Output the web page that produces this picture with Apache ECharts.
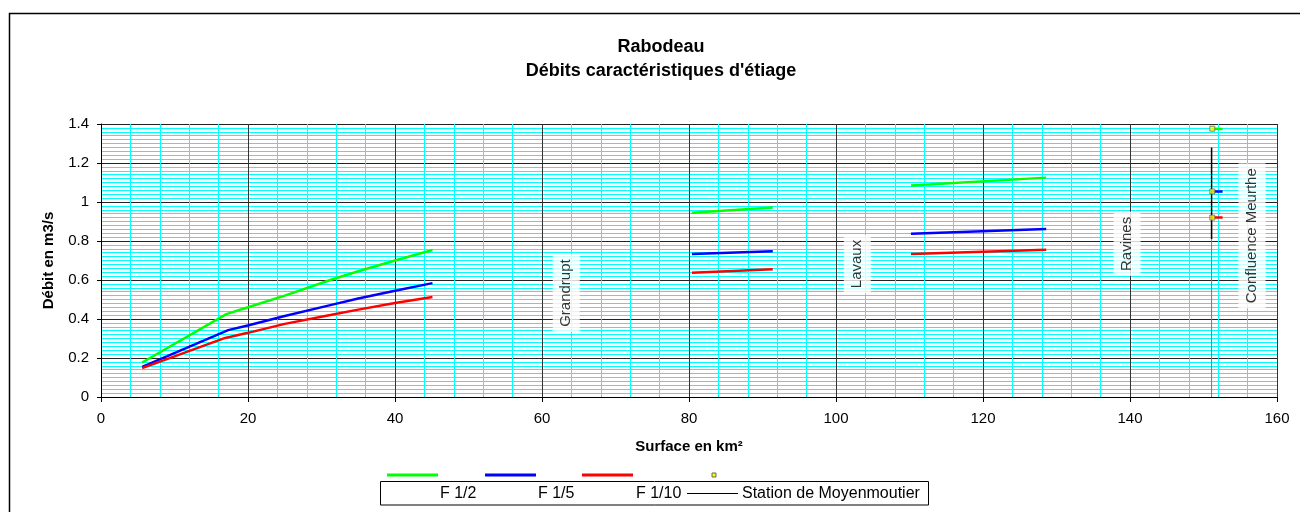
<!DOCTYPE html>
<html><head><meta charset="utf-8">
<script src="https://cdn.jsdelivr.net/npm/echarts@6/dist/echarts.min.js"></script>
<style>html,body{margin:0;padding:0;background:#fff}#c{width:1300px;height:512px}</style>
</head><body><div id="c"></div>
<script>
const FONT = "'Liberation Sans', Arial, sans-serif";

const titleLines = ['Rabodeau', "Débits caractéristiques d'étiage"];
const xAxisName = 'Surface en km²';
const yAxisName = 'Débit en m3/s';
const seriesNames = ['F 1/2', 'F 1/5', 'F 1/10', 'Station de Moyenmoutier'];
const seriesColors = ['#00ff00', '#0000ff', '#ff0000'];

const xTickLabels = ['0', '20', '40', '60', '80', '100', '120', '140', '160'];
const yTickLabels = ['0', '0.2', '0.4', '0.6', '0.8', '1', '1.2', '1.4'];

// Reach 1 (upstream)
const f12_x1 = [5.6, 17.05, 20, 25, 31.2, 35, 40, 45.1];
const f12_y1 = [0.177, 0.425, 0.46, 0.52, 0.60, 0.645, 0.70, 0.754];
const f15_x1 = [5.6, 17.3, 20.1, 25, 31.2, 35, 40, 45.1];
const f15_y1 = [0.155, 0.343, 0.368, 0.415, 0.471, 0.505, 0.545, 0.584];
const f110_x1 = [5.6, 16.9, 20, 25, 31.2, 35, 40, 45.1];
const f110_y1 = [0.148, 0.303, 0.329, 0.375, 0.42, 0.448, 0.482, 0.513];

// Reach 2
const reach2X = [80.4, 91.4];
const f12_y2 = [0.945, 0.972];
const f15_y2 = [0.733, 0.748];
const f110_y2 = [0.637, 0.655];

// Reach 3
const reach3X = [110.2, 128.6];
const f12_y3 = [1.085, 1.125];
const f15_y3 = [0.837, 0.862];
const f110_y3 = [0.733, 0.755];

// Station de Moyenmoutier (point + short tail)
const stationX = [151.2, 152.6];
const f12_st = [1.376, 1.374];
const f15_st = [1.054, 1.054];
const f110_st = [0.92, 0.92];
const stationBarX = 151.1;
const stationBarY = [0, 0.81, 1.28];

// Place labels
const placeNames = ['Grandrupt', 'Lavaux', 'Ravines', 'Confluence Meurthe'];
const placeX = [63.3, 102.9, 139.6, 156.6];
const placeY = [0.533, 0.682, 0.785, 0.827];

const zip = (xs, ys) => xs.map((x, i) => [x, ys[i]]);

function lineSeries(name, color, data, width) {
  return {
    name, type: 'line', data, showSymbol: false, symbol: 'none', silent: true,
    lineStyle: { color, width: width || 2.5 }, itemStyle: { color }, z: 3, animation: false
  };
}

const series = [];
const segs = [
  [zip(f12_x1, f12_y1), zip(reach2X, f12_y2), zip(reach3X, f12_y3), zip(stationX, f12_st)],
  [zip(f15_x1, f15_y1), zip(reach2X, f15_y2), zip(reach3X, f15_y3), zip(stationX, f15_st)],
  [zip(f110_x1, f110_y1), zip(reach2X, f110_y2), zip(reach3X, f110_y3), zip(stationX, f110_st)]
];
segs.forEach((list, k) => list.forEach(d => series.push(lineSeries(seriesNames[k], seriesColors[k], d))));

series.push(lineSeries(seriesNames[3], '#777777', [[stationBarX, stationBarY[0]], [stationBarX, stationBarY[1]]], 1));
series.push(lineSeries(seriesNames[3], '#000000', [[stationBarX, stationBarY[1]], [stationBarX, stationBarY[2]]], 1.5));
series.push({
  name: seriesNames[3], type: 'scatter', symbol: 'rect', symbolSize: 5, silent: true, animation: false, z: 6,
  itemStyle: { color: '#ffff00', borderColor: '#666', borderWidth: 1 },
  data: [[stationX[0], f12_st[0]], [stationX[0], f15_st[0]], [stationX[0], f110_st[0]]]
});
series.push({
  type: 'scatter', symbolSize: 0, silent: true, animation: false, z: 5,
  data: placeNames.map((n, i) => ({ name: n, value: [placeX[i], placeY[i]] })),
  label: {
    show: true, position: 'inside', rotate: 90, formatter: p => p.name,
    fontFamily: FONT, fontSize: 15, color: '#000', backgroundColor: '#fff', padding: [6, 5]
  }
});

const legendY = 475;
const option = {
  animation: false,
  backgroundColor: '#fff',
  textStyle: { fontFamily: FONT },
  grid: { left: 101, right: 23, top: 124, bottom: 115, show: false },
  xAxis: {
    type: 'value', min: 0, max: 160, interval: 20,
    name: xAxisName, nameLocation: 'middle', nameGap: 42,
    nameTextStyle: { fontFamily: FONT, fontSize: 15, fontWeight: 'bold', color: '#000' },
    axisLine: { show: true, lineStyle: { color: '#000', width: 1 } },
    axisTick: { show: true, length: 5, lineStyle: { color: '#000' } },
    axisLabel: { fontFamily: FONT, fontSize: 15, color: '#000', margin: 14,
      formatter: v => xTickLabels[Math.round(v / 20)] },
    splitLine: { show: true, lineStyle: { color: '#333', width: 1 } },
    minorTick: { show: false, splitNumber: 5 },
    minorSplitLine: { show: true, lineStyle: { color: '#00ffff', width: 1 } }
  },
  yAxis: {
    type: 'value', min: 0, max: 1.4, interval: 0.2,
    name: yAxisName, nameLocation: 'middle', nameGap: 45, nameRotate: 90,
    nameTextStyle: { fontFamily: FONT, fontSize: 15, fontWeight: 'bold', color: '#000' },
    axisLine: { show: true, lineStyle: { color: '#000', width: 1 } },
    axisTick: { show: true, length: 4, lineStyle: { color: '#000' } },
    axisLabel: { fontFamily: FONT, fontSize: 15, color: '#000', margin: 12,
      formatter: v => yTickLabels[Math.round(v / 0.2)] },
    splitLine: { show: true, lineStyle: { color: '#222', width: 1 } },
    minorTick: { show: false, splitNumber: 10 },
    minorSplitLine: { show: true, lineStyle: { color: '#00ffff', width: 1 } }
  },
  legend: { show: false },
  series,
  graphic: [
    { type: 'rect', shape: { x: 9.5, y: 13.5, width: 1400, height: 600 },
      style: { fill: 'none', stroke: '#000', lineWidth: 1.5 }, silent: true, z: 0 },
    { type: 'text', x: 661, y: 35, silent: true,
      style: { text: titleLines.join('\n'), align: 'center', verticalAlign: 'top',
        fontFamily: FONT, fontSize: 18, fontWeight: 'bold', lineHeight: 24, fill: '#000' } },
    { type: 'line', shape: { x1: 387, y1: legendY, x2: 438, y2: legendY }, style: { stroke: seriesColors[0], lineWidth: 3 }, silent: true },
    { type: 'line', shape: { x1: 485, y1: legendY, x2: 536, y2: legendY }, style: { stroke: seriesColors[1], lineWidth: 3 }, silent: true },
    { type: 'line', shape: { x1: 582, y1: legendY, x2: 633, y2: legendY }, style: { stroke: seriesColors[2], lineWidth: 3 }, silent: true },
    { type: 'rect', shape: { x: 712, y: 473, width: 4, height: 4 }, style: { fill: '#ffff00', stroke: '#666', lineWidth: 1 }, silent: true },
    { type: 'rect', shape: { x: 380.5, y: 481.5, width: 548, height: 23.5 }, style: { fill: 'none', stroke: '#000', lineWidth: 1 }, silent: true },
    { type: 'text', x: 440, y: 494, silent: true, style: { text: seriesNames[0], verticalAlign: 'middle', fontFamily: FONT, fontSize: 16, fill: '#000' } },
    { type: 'text', x: 538, y: 494, silent: true, style: { text: seriesNames[1], verticalAlign: 'middle', fontFamily: FONT, fontSize: 16, fill: '#000' } },
    { type: 'text', x: 636, y: 494, silent: true, style: { text: seriesNames[2], verticalAlign: 'middle', fontFamily: FONT, fontSize: 16, fill: '#000' } },
    { type: 'line', shape: { x1: 687, y1: 493.5, x2: 738, y2: 493.5 }, style: { stroke: '#000', lineWidth: 1 }, silent: true },
    { type: 'text', x: 742, y: 494, silent: true, style: { text: seriesNames[3], verticalAlign: 'middle', fontFamily: FONT, fontSize: 16, fill: '#000' } }
  ]
};

const chart = echarts.init(document.getElementById('c'), null, { renderer: 'canvas' });
chart.setOption(option);
</script>
</body></html>
